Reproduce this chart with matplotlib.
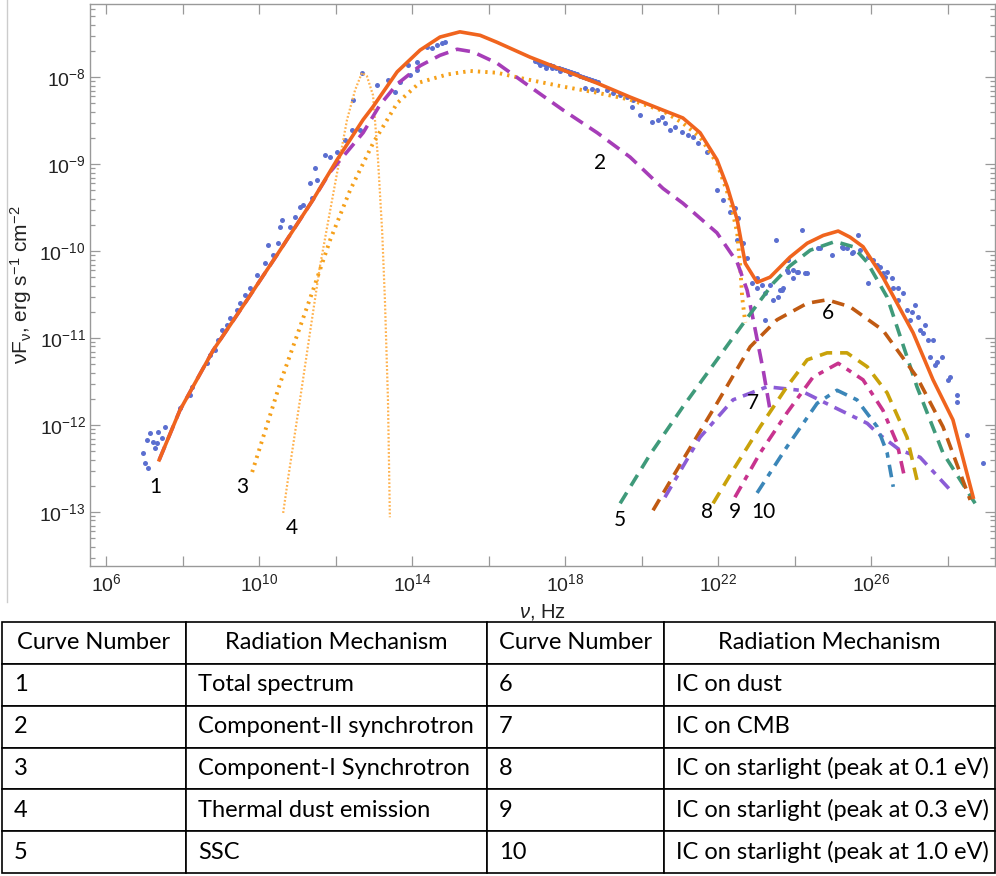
import numpy as np
import matplotlib.pyplot as plt
from matplotlib.ticker import FixedLocator, FuncFormatter, NullFormatter, NullLocator
from matplotlib.lines import Line2D

plt.rcParams['font.family'] = ['Liberation Sans', 'DejaVu Sans']
plt.rcParams['mathtext.fontset'] = 'custom'
plt.rcParams['mathtext.rm'] = 'Liberation Sans'
plt.rcParams['mathtext.it'] = 'Liberation Sans:italic'

# all values are log10(nu / Hz) and log10(nuF_nu / erg s^-1 cm^-2)
obs_x = [6.97, 7.10, 7.02, 7.07, 7.15, 7.23, 7.28, 7.36, 7.46, 7.54, 7.33,
         7.93, 8.20, 8.25, 8.64, 8.72, 8.85, 8.93, 9.03, 9.16, 9.24, 9.42, 9.50, 9.63, 9.76, 9.95,
         10.16, 10.24, 10.37, 10.50, 10.55, 10.60, 10.81, 10.94, 11.07, 11.15, 11.39, 11.33, 11.46,
         11.52, 11.73, 11.86, 12.04, 12.25, 12.43, 12.64,
         12.46, 12.69, 13.08, 13.37, 13.56, 13.69, 13.90, 13.95, 14.13, 14.13, 14.39, 14.52, 14.65,
         14.78, 14.86,
         17.22, 17.29, 17.37, 17.45, 17.53, 17.61, 17.69, 17.76, 17.84, 17.92, 18.00, 18.08, 18.16,
         18.24, 18.31, 18.39, 18.47, 18.55, 18.63, 18.71, 18.78, 18.86, 17.35, 17.50, 17.66, 17.87,
         18.13, 18.52, 18.71, 18.84, 19.10, 19.25, 19.44, 19.62, 19.78, 19.75, 19.96, 20.27, 20.43,
         20.54, 20.61, 20.75, 20.88, 21.06, 21.22, 21.35, 21.48, 21.71, 21.97, 22.13, 22.31, 22.44,
         22.52, 22.50, 22.65, 22.76, 22.89, 23.02, 23.02, 23.15, 23.23, 23.36, 23.52, 23.57, 23.67,
         23.83, 23.83, 23.96, 24.07, 24.20, 24.27, 24.67, 24.98, 25.24, 25.37, 25.50, 25.66, 25.71,
         25.92, 25.92, 26.05, 26.16, 26.24, 26.31, 26.42, 26.37, 26.55, 26.58, 26.71, 26.84, 26.71,
         26.94, 27.07, 27.15, 27.02, 27.23, 27.28, 27.41, 27.36, 27.49, 27.62, 27.54, 27.73, 27.86,
         27.67, 28.01, 28.07, 28.25, 28.25, 28.51, 28.93,
         23.44, 23.62, 23.70, 23.80, 23.96, 24.09, 24.33, 23.23, 24.61, 25.27, 25.53]
obs_y = [-12.32, -12.49, -12.44, -12.17, -12.09, -12.20, -12.26, -12.08, -12.15, -12.02, -12.21,
         -11.80, -11.66, -11.56, -11.29, -11.20, -11.14, -11.02, -10.91, -10.85, -10.77, -10.68,
         -10.60, -10.51, -10.43, -10.28, -10.14, -9.93, -10.05, -9.91, -9.72, -9.64, -9.72, -9.61,
         -9.49, -9.47, -9.39, -9.22, -9.05, -9.18, -8.90, -8.92, -8.86, -8.72, -8.61, -8.61,
         -8.26, -7.95, -8.09, -8.03, -8.17, -8.06, -7.86, -7.98, -7.83, -7.92, -7.66, -7.67, -7.63,
         -7.61, -7.60,
         -7.82, -7.83, -7.84, -7.85, -7.86, -7.86, -7.87, -7.89, -7.90, -7.91, -7.92, -7.93, -7.94,
         -7.95, -7.97, -7.99, -8.00, -8.01, -8.02, -8.03, -8.05, -8.06, -7.86, -7.89, -7.90, -7.93,
         -7.97, -8.13, -8.14, -8.15, -8.15, -8.18, -8.21, -8.23, -8.26, -8.34, -8.44, -8.52, -8.49,
         -8.46, -8.53, -8.61, -8.57, -8.63, -8.67, -8.69, -8.76, -8.86, -9.30, -9.41, -9.55, -9.51,
         -9.62, -9.87, -9.91, -10.08, -10.37, -10.31, -10.43, -10.39, -10.48, -10.39, -9.87, -10.53,
         -10.45, -10.10, -10.24, -10.31, -10.24, -9.76, -10.25, -9.97, -10.05, -9.95, -9.97, -10.02,
         -9.82, -9.99, -10.07, -10.37, -10.10, -10.16, -10.18, -10.25, -10.24, -10.30, -10.31,
         -10.43, -10.43, -10.48, -10.56, -10.68, -10.70, -10.62, -10.79, -10.76, -10.91, -10.85,
         -10.94, -11.02, -11.02, -11.22, -11.28, -11.22, -11.31, -11.48, -11.45, -11.66, -11.74,
         -12.11, -12.44,
         -10.56, -10.45, -10.43, -10.22, -10.22, -10.24, -10.25, -10.79, -9.97, -9.97, -10.01]

c1_x = [7.39, 7.93, 8.80, 9.69, 10.55, 11.41, 12.04, 12.72, 12.98, 13.61, 14.21, 14.73, 15.25,
        15.78, 16.22, 17.08, 17.95, 18.84, 19.70, 20.56, 21.08, 21.53, 21.97, 22.24, 22.50, 22.71,
        23.02, 23.36, 23.88, 24.33, 24.75, 25.14, 25.45, 25.79, 26.31, 27.10, 27.62, 28.14, 28.67]
c1_y = [-12.40, -11.83, -11.14, -10.56, -9.99, -9.41, -8.95, -8.49, -8.34, -7.94, -7.69, -7.54,
        -7.48, -7.52, -7.60, -7.77, -7.92, -8.07, -8.23, -8.38, -8.47, -8.64, -8.95, -9.26, -9.64,
        -10.14, -10.36, -10.30, -10.07, -9.91, -9.82, -9.77, -9.84, -9.95, -10.30, -10.94, -11.48,
        -11.94, -12.83]

c2_x = [7.39, 7.93, 8.80, 9.69, 10.55, 11.41, 11.86, 12.72, 13.16, 13.61, 14.21, 14.73, 15.18,
        15.59, 16.22, 17.08, 17.95, 18.84, 19.70, 20.56, 21.08, 21.97, 22.50, 22.76, 22.92, 23.18,
        23.36]
c2_y = [-12.40, -11.83, -11.14, -10.56, -9.99, -9.41, -9.09, -8.64, -8.32, -8.08, -7.87, -7.75,
        -7.68, -7.71, -7.84, -8.11, -8.38, -8.64, -8.92, -9.28, -9.45, -9.79, -10.13, -10.45,
        -10.79, -11.37, -11.83]

c3_x = [9.82, 10.55, 11.41, 11.86, 12.38, 12.98, 13.61, 14.21, 14.92, 15.52, 16.22, 16.82, 17.95,
        18.84, 19.70, 20.56, 21.08, 21.53, 21.97, 22.31, 22.50, 22.58, 22.63, 22.71]
c3_y = [-12.54, -11.52, -10.45, -9.87, -9.30, -8.76, -8.30, -8.06, -7.97, -7.93, -7.95, -8.01,
        -8.11, -8.18, -8.26, -8.39, -8.53, -8.69, -8.99, -9.41, -9.79, -10.18, -10.53, -10.82]

c4_x = [10.63, 10.76, 11.07, 11.33, 11.59, 11.86, 12.04, 12.30, 12.51, 12.69, 12.82, 12.98, 13.11,
        13.22, 13.29, 13.37, 13.42]
c4_y = [-13.01, -12.61, -11.71, -10.94, -10.18, -9.53, -9.10, -8.49, -8.15, -7.95, -7.99, -8.21,
        -8.95, -9.79, -10.56, -11.71, -13.06]

c5_x = [19.44, 20.22, 21.08, 21.97, 22.76, 23.44, 23.88, 24.41, 25.06, 25.53, 25.90, 26.42, 26.58,
        27.20, 27.88, 28.72]
c5_y = [-12.90, -12.34, -11.79, -11.25, -10.77, -10.37, -10.17, -9.99, -9.89, -9.95, -10.13,
        -10.53, -10.74, -11.56, -12.32, -12.90]

c6_x = [20.30, 21.08, 21.97, 22.84, 23.54, 24.33, 24.85, 25.45, 26.31, 27.20, 27.88, 28.59]
c6_y = [-12.98, -12.40, -11.75, -11.10, -10.79, -10.60, -10.56, -10.64, -10.91, -11.45, -12.02,
        -12.86]

c7_x = [20.61, 21.53, 22.39, 23.28, 24.14, 25.01, 25.90, 26.16, 26.76, 27.28, 28.14]
c7_y = [-12.83, -12.14, -11.71, -11.56, -11.60, -11.79, -11.98, -12.09, -12.29, -12.37, -12.78]

c8_x = [21.87, 22.39, 23.10, 23.80, 24.33, 24.85, 25.37, 25.90, 26.42, 26.94, 27.20]
c8_y = [-12.90, -12.52, -12.02, -11.56, -11.25, -11.17, -11.17, -11.33, -11.63, -12.14, -12.63]

c9_x = [22.44, 23.10, 23.80, 24.48, 25.14, 25.79, 26.31, 26.68, 26.89]
c9_y = [-12.83, -12.32, -11.86, -11.45, -11.29, -11.48, -11.83, -12.21, -12.63]

c10_x = [23.02, 23.80, 24.59, 25.11, 25.63, 26.16, 26.42, 26.58]
c10_y = [-12.78, -12.25, -11.75, -11.60, -11.71, -12.02, -12.32, -12.71]

# curve number labels (log nu, log nuFnu)
label_text = ['1', '2', '3', '4', '5', '6', '7', '8', '9', '10']
label_x = [7.28, 18.92, 9.56, 10.86, 19.44, 24.88, 22.92, 21.71, 22.44, 23.18]
label_y = [-12.71, -8.99, -12.71, -13.18, -13.09, -10.71, -11.75, -13.00, -13.00, -13.00]

header = ['Curve Number', 'Radiation Mechanism', 'Curve Number', 'Radiation Mechanism']
ids_left = ['1', '2', '3', '4', '5']
mech_left = ['Total spectrum', 'Component-II synchrotron', 'Component-I Synchrotron',
             'Thermal dust emission', 'SSC']
ids_right = ['6', '7', '8', '9', '10']
mech_right = ['IC on dust', 'IC on CMB', 'IC on starlight (peak at 0.1 eV)',
              'IC on starlight (peak at 0.3 eV)', 'IC on starlight (peak at 1.0 eV)']


fig = plt.figure(figsize=(9.96, 8.76), dpi=100)
ax = fig.add_axes([90/996, 1 - 566/876, 905/996, 562/876])

def lin(v):
    return 10**np.array(v)

ax.plot(lin(obs_x), lin(obs_y), 'o', ms=3.6, color='#5B6FD0', mec='none', zorder=2)

# (x, y, colour, linewidth, dash pattern)
curves = [
    (c4_x, c4_y, '#FFB24E', 1.6, (0, (0.8, 0.9))),
    (c3_x, c3_y, '#F5A01A', 2.8, (0, (0.6, 1.3))),
    (c2_x, c2_y, '#A63DB8', 2.6, (0, (4, 2.2))),
    (c5_x, c5_y, '#3F9A7A', 2.6, (0, (3.5, 2.2))),
    (c6_x, c6_y, '#C05A12', 2.6, (0, (3.5, 2.2))),
    (c7_x, c7_y, '#8B5CD6', 2.6, (0, (3.5, 2, 1.5, 2))),
    (c8_x, c8_y, '#C9A20A', 2.6, (0, (3.5, 2.2))),
    (c9_x, c9_y, '#C8338E', 2.6, (0, (3.5, 2, 1.5, 2))),
    (c10_x, c10_y, '#3B86B8', 2.6, (0, (3.5, 2, 1.5, 2))),
    (c1_x, c1_y, '#F0641E', 2.6, '-'),
]
for cx, cy, col, lw, ls in curves:
    ax.plot(lin(cx), lin(cy), color=col, lw=lw, ls=ls, zorder=3)

for t, lx, ly in zip(label_text, label_x, label_y):
    ax.text(10**lx, 10**ly, t, fontsize=15, family=['Lato', 'DejaVu Sans'],
            ha='center', va='center', color='black', zorder=4)

ax.set_xscale('log')
ax.set_yscale('log')
ax.set_xlim(10**5.58, 10**29.24)
ax.set_ylim(10**-13.62, 10**-7.16)

xt = [10.0**e for e in range(6, 30, 2)]
ax.xaxis.set_major_locator(FixedLocator(xt))
ax.xaxis.set_major_formatter(FuncFormatter(
    lambda v, p: r'$10^{%d}$' % round(np.log10(v)) if round(np.log10(v)) % 4 == 2 else ''))
ax.xaxis.set_minor_locator(NullLocator())

yt = [10.0**e for e in range(-14, -6)]
ymin = [m * 10.0**e for e in range(-14, -6) for m in range(2, 10)]
ax.yaxis.set_major_locator(FixedLocator(yt))
ax.yaxis.set_minor_locator(FixedLocator(ymin))
ax.yaxis.set_major_formatter(FuncFormatter(lambda v, p: r'$10^{%d}$' % round(np.log10(v))))
ax.yaxis.set_minor_formatter(NullFormatter())

ax.tick_params(which='both', direction='in', top=True, right=True, color='#999999', width=0.9,
               labelsize=14, labelcolor='#222222')
ax.tick_params(which='major', length=7)
ax.tick_params(which='minor', length=3.5)
ax.tick_params(axis='x', pad=5)
ax.tick_params(axis='y', pad=3)
for s in ax.spines.values():
    s.set_color('#999999')
    s.set_linewidth(1.0)

ax.set_xlabel(r'$\nu$, Hz', fontsize=14.5, color='#222222', labelpad=5)
ax.set_ylabel(r'νF$_{\mathregular{ν}}$, erg s$^{\mathregular{-1}}$ cm$^{\mathregular{-2}}$',
              fontsize=15, color='#222222', labelpad=4)

fig.add_artist(Line2D([7/996, 7/996], [1 - 602/876, 1], color='#cccccc', lw=1))

# table below the chart
col_w = [184, 301, 177, 331]
rows = [[a, b, c, d] for a, b, c, d in zip(ids_left, mech_left, ids_right, mech_right)]
tax = fig.add_axes([2/996, 3/876, 993/996, 251/876])
tax.axis('off')
tbl = tax.table(cellText=rows, colLabels=header, colWidths=[w / sum(col_w) for w in col_w],
                cellLoc='left', colLoc='center', bbox=[0, 0, 1, 1])
tbl.auto_set_font_size(False)
for (r, c), cell in tbl.get_celld().items():
    cell.set_edgecolor('black')
    cell.set_linewidth(1.2)
    cell.PAD = 12 / col_w[c]
    cell.get_text().set_fontsize(17)
    cell.get_text().set_family(['Lato', 'DejaVu Sans'])

fig.savefig('out.png', dpi=100, facecolor='white')
